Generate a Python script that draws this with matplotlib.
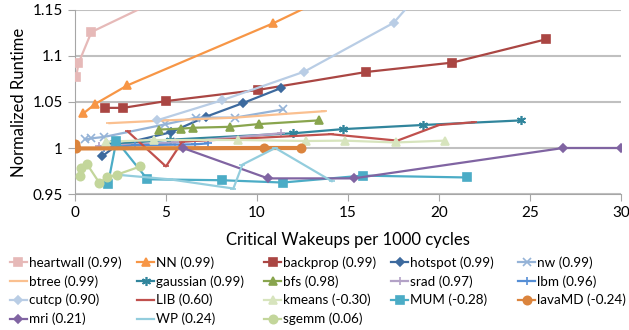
import matplotlib
matplotlib.use("Agg")
import matplotlib.pyplot as plt

plt.rcParams['font.family'] = ['Lato', 'DejaVu Sans']

# series: (wakeups, normalized runtime)
heartwall = ([0.07, 0.2, 0.91, 4.5], [1.077, 1.092, 1.126, 1.16])
nn = ([0.46, 1.13, 2.88, 10.9, 14.0], [1.0375, 1.048, 1.068, 1.1356, 1.165])
backprop = ([1.64, 2.65, 5.02, 10.03, 16.0, 20.7, 25.85], [1.0436, 1.0436, 1.051, 1.063, 1.0826, 1.0927, 1.118])
hotspot = ([1.5, 2.3, 5.25, 7.2, 9.25, 11.3], [0.991, 1.003, 1.017, 1.034, 1.049, 1.065])
nw = ([0.55, 0.91, 1.6, 4.93, 6.66, 8.8, 11.45], [1.0094, 1.0105, 1.012, 1.0256, 1.033, 1.033, 1.042])
btree = ([1.9, 5.0, 8.8, 11.5, 13.7], [1.027, 1.030, 1.033, 1.037, 1.040])
gaussian = ([2.0, 5.2, 12.0, 14.7, 19.1, 24.5], [1.004, 1.009, 1.016, 1.0205, 1.025, 1.030])
bfs = ([4.6, 5.85, 6.5, 8.5, 10.1, 13.4], [1.020, 1.021, 1.022, 1.023, 1.026, 1.030])
srad = ([1.3, 5.5, 11.3], [1.002, 1.006, 1.016])
lbm = ([1.6, 3.3, 6.6, 7.3], [1.0, 1.003, 1.004, 1.005])
cutcp = ([4.5, 8.1, 12.6, 17.5, 19.0], [1.030, 1.052, 1.083, 1.136, 1.17])
lib = ([2.9, 5.0, 5.9, 14.05, 17.7, 20.0, 21.9], [1.018, 0.980, 1.007, 1.015, 1.008, 1.025, 1.028])
kmeans = ([1.73, 4.34, 8.94, 12.7, 14.8, 17.6, 20.3], [1.0068, 1.0087, 1.0087, 1.0076, 1.008, 1.006, 1.008])
mum = ([1.82, 2.28, 3.98, 8.06, 11.4, 15.8, 21.5], [0.961, 1.008, 0.966, 0.965, 0.9625, 0.970, 0.968])
lavamd = ([0.02, 0.05, 10.4, 12.4], [1.004, 0.9995, 1.0, 1.0])
mri = ([5.93, 10.6, 15.3, 26.8, 30.0], [1.0, 0.967, 0.967, 1.0, 1.0])
wp = ([2.3, 5.2, 8.7, 9.2, 11.0, 14.1], [0.971, 0.966, 0.956, 0.982, 1.0, 0.964])
sgemm = ([0.3, 0.35, 0.65, 1.35, 1.75, 2.3, 3.6], [0.970, 0.978, 0.983, 0.962, 0.968, 0.971, 0.980])

labels = ["heartwall (0.99)", "NN (0.99)", "backprop (0.99)", "hotspot (0.99)", "nw (0.99)",
          "btree (0.99)", "gaussian (0.99)", "bfs (0.98)", "srad (0.97)", "lbm (0.96)",
          "cutcp (0.90)", "LIB (0.60)", "kmeans (-0.30)", "MUM (-0.28)", "lavaMD (-0.24)",
          "mri (0.21)", "WP (0.24)", "sgemm (0.06)"]
series = [heartwall, nn, backprop, hotspot, nw, btree, gaussian, bfs, srad, lbm,
          cutcp, lib, kmeans, mum, lavamd, mri, wp, sgemm]
colors = ['#E6B9B8', '#F79646', '#AA4643', '#3D6A9E', '#95B3D7',
          '#FAC090', '#31859C', '#89A54E', '#B3A2C7', '#558ED5',
          '#B9CDE5', '#C0504D', '#D7E4BD', '#4BACC6', '#DB843D',
          '#8064A2', '#93CDDD', '#C3D69B']
markers = ['s', '^', 's', 'D', 'x', '_', (6, 2, 0), '^', '+', '+',
           'D', '_', '^', 's', 'o', 'D', '_', 'o']
msizes = [5.5, 6, 5.5, 4, 5.5, 5, 6.5, 6, 5.5, 5.5, 4, 5, 6, 5.5, 6, 4, 5, 6]

fig = plt.figure(figsize=(6.29, 3.30), dpi=100)
ax = fig.add_axes([0.119, 0.412, 0.869, 0.558])

handles = []
for i, (xs, ys) in enumerate(series):
    lw = 3 if labels[i].startswith("lavaMD") else 1.6
    h, = ax.plot(xs, ys, color=colors[i], marker=markers[i], markersize=msizes[i],
                 linewidth=lw, markeredgewidth=1.2, label=labels[i], zorder=3)
    handles.append(h)

ax.set_xlim(0, 30)
ax.set_ylim(0.95, 1.15)
ax.set_xticks(range(0, 31, 5))
ax.set_yticks([0.95, 1.0, 1.05, 1.1, 1.15])
ax.set_yticklabels(["0.95", "1", "1.05", "1.1", "1.15"])
ax.yaxis.grid(True, color='#C0C0C0', linewidth=1.5, zorder=0)
ax.set_axisbelow(True)
for s in ['top', 'right']:
    ax.spines[s].set_visible(False)
ax.spines['left'].set_color('#A6A6A6')
ax.spines['bottom'].set_color('#A6A6A6')
ax.tick_params(colors='#A6A6A6', labelcolor='black', labelsize=11, length=5)
ax.set_xlabel("Critical Wakeups per 1000 cycles", fontsize=12, labelpad=9)
ax.set_ylabel("Normalized Runtime", fontsize=12)

# legend laid out row by row, one legend per column at fixed positions
col_x = [0.016, 0.218, 0.420, 0.622, 0.824]
for c in range(5):
    idx = list(range(c, len(labels), 5))
    leg = fig.legend([handles[i] for i in idx], [labels[i] for i in idx],
                     loc='upper left', bbox_to_anchor=(col_x[c], 0.224), frameon=False,
                     fontsize=9.7, handlelength=1.25, handletextpad=0.15,
                     labelspacing=0.47, borderpad=0.0, borderaxespad=0.0)
    for lh in leg.legend_handles:
        lh.set_linewidth(1.6)

fig.savefig("out.png", dpi=100)
